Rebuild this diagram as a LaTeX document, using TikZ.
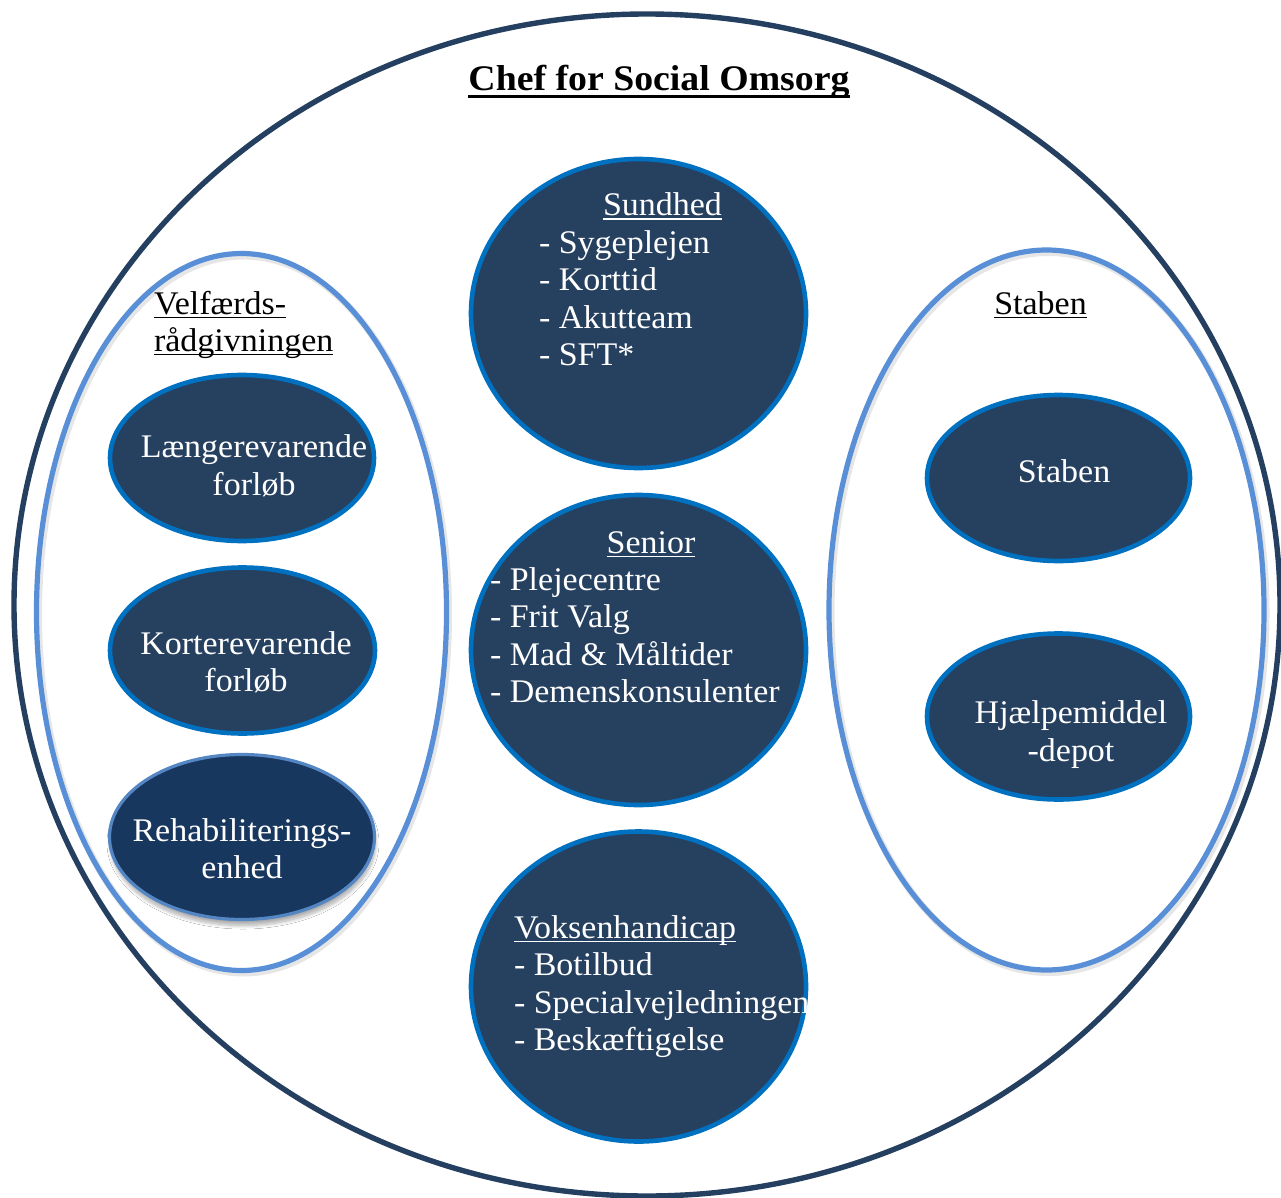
\documentclass[tikz,border=0pt]{standalone}
\usepackage{fontspec}
\setmainfont[FakeStretch=1.03]{Liberation Serif}
\newfontfamily\titlefamily[FakeStretch=1.05]{Liberation Serif}
\usetikzlibrary{shapes.geometric,shadows.blur}

\definecolor{navy}{RGB}{38,64,96}
\definecolor{rimblue}{RGB}{0,112,192}
\definecolor{groupblue}{RGB}{88,143,214}
\definecolor{outerline}{RGB}{36,63,96}
\definecolor{rehabfill}{RGB}{24,55,94}
\definecolor{rehabrim}{RGB}{84,134,196}

% body text size and underlined headings
\newcommand\bodysize{\fontsize{33}{37.5}\selectfont}
\newcommand\titlesize{\fontsize{36}{42}\selectfont}
\newcommand\ulword[1]{\setbox0=\hbox{#1}\rlap{\rule[-4.2pt]{\wd0}{1.7pt}}\box0}
\newcommand\ultitle[1]{\setbox0=\hbox{#1}\rlap{\rule[-6.8pt]{\wd0}{2.8pt}}\box0}

\begin{document}
\begin{tikzpicture}[x=1pt,y=-1pt,
  every node/.style={inner sep=0pt, outer sep=0pt},
  unit/.style={ellipse, draw=rimblue, fill=navy, line width=4.6pt},
  group/.style={ellipse, draw=groupblue, line width=5.2pt},
  groupshade/.style={ellipse, draw=black!60, draw opacity=0.16, line width=7pt},
  wtxt/.style={text=white, font=\bodysize},
  ktxt/.style={text=black, font=\bodysize},
]
\useasboundingbox (0,0) rectangle (1281,1198);
\clip (0,0) rectangle (1281,1198);
\fill[white] (0,0) rectangle (1281,1198);

% outer circle
\node[ellipse, draw=outerline, line width=5.4pt,
      minimum width=1266, minimum height=1182] (chef) at (647,605) {};
\node[font={\titlefamily\bfseries\titlesize}, anchor=base] (title) at (659,91)
  {\ultitle{Chef for Social Omsorg}};

% group rings with soft shadow
\node[groupshade, minimum width=410, minimum height=717] (velf-sh) at (243.5,614.5) {};
\node[group, minimum width=410, minimum height=717] (velf) at (241.5,612) {};
\node[groupshade, minimum width=435, minimum height=720] (stab-sh) at (1048.5,612.5) {};
\node[group, minimum width=435, minimum height=720] (stab) at (1046.5,610) {};

% central units
\node[unit, minimum width=335, minimum height=309] (sund) at (638.5,313.5) {};
\node[unit, minimum width=335, minimum height=310] (senior) at (638.5,650) {};
\node[unit, minimum width=335, minimum height=310] (voksen) at (638.5,986.5) {};

% units in Velfærdsrådgivningen
\node[unit, minimum width=264, minimum height=166] (laeng) at (242,458) {};
\node[unit, minimum width=265, minimum height=166] (kort) at (242.5,650.5) {};
\node[ellipse, draw=rehabrim, fill=rehabfill, line width=3.2pt,
      minimum width=265, minimum height=165,
      blur shadow={shadow xshift=1pt, shadow yshift=-6pt, shadow blur steps=10, shadow blur radius=3.5pt, shadow opacity=32}]
      (rehab) at (242,837) {};

% units in Staben
\node[unit, minimum width=263, minimum height=166] (stabunit) at (1058.5,478) {};
\node[unit, minimum width=263, minimum height=166] (hjaelp) at (1058.5,716.5) {};

% Sundhed
\node[wtxt, anchor=base] (sund-h) at (662.5,216) {\ulword{Sundhed}};
\node[wtxt, anchor=base west] (sund-1) at (539,253) {- Sygeplejen};
\node[wtxt, anchor=base west] (sund-2) at (539,290.5) {- Korttid};
\node[wtxt, anchor=base west] (sund-3) at (539,328) {- Akutteam};
\node[wtxt, anchor=base west] (sund-4) at (539,365.5) {- SFT*};

% Senior
\node[wtxt, anchor=base] (senior-h) at (651,553) {\ulword{Senior}};
\node[wtxt, anchor=base west] (senior-1) at (490,590) {- Plejecentre};
\node[wtxt, anchor=base west] (senior-2) at (490,627.5) {- Frit Valg};
\node[wtxt, anchor=base west] (senior-3) at (490,665) {- Mad \& Måltider};
\node[wtxt, anchor=base west] (senior-4) at (490,702.5) {- Demenskonsulenter};

% Voksenhandicap
\node[wtxt, anchor=base west] (voksen-h) at (514,938) {\ulword{Voksenhandicap}};
\node[wtxt, anchor=base west] (voksen-1) at (514,975.5) {- Botilbud};
\node[wtxt, anchor=base west] (voksen-2) at (514,1013) {- Specialvejledningen};
\node[wtxt, anchor=base west] (voksen-3) at (514,1050.5) {- Beskæftigelse};

% group headings
\node[ktxt, anchor=base west] (velf-h1) at (154,314) {\ulword{Velfærds-}};
\node[ktxt, anchor=base west] (velf-h2) at (154,351) {\ulword{rådgivningen}};
\node[ktxt, anchor=base] (stab-h) at (1040.5,314) {\ulword{Staben}};

% labels of the small units
\node[wtxt, anchor=base] (laeng-1) at (254,457) {Længerevarende};
\node[wtxt, anchor=base] (laeng-2) at (254,495) {forløb};
\node[wtxt, anchor=base] (kort-1) at (246,654) {Korterevarende};
\node[wtxt, anchor=base] (kort-2) at (246,691) {forløb};
\node[wtxt, anchor=base] (rehab-1) at (242,841.5) {Rehabiliterings-};
\node[wtxt, anchor=base] (rehab-2) at (242,878) {enhed};
\node[wtxt, anchor=base] (stabunit-1) at (1064,482) {Staben};
\node[wtxt, anchor=base] (hjaelp-1) at (1071,723) {Hjælpemiddel};
\node[wtxt, anchor=base] (hjaelp-2) at (1071,761) {-depot};
\end{tikzpicture}
\end{document}
